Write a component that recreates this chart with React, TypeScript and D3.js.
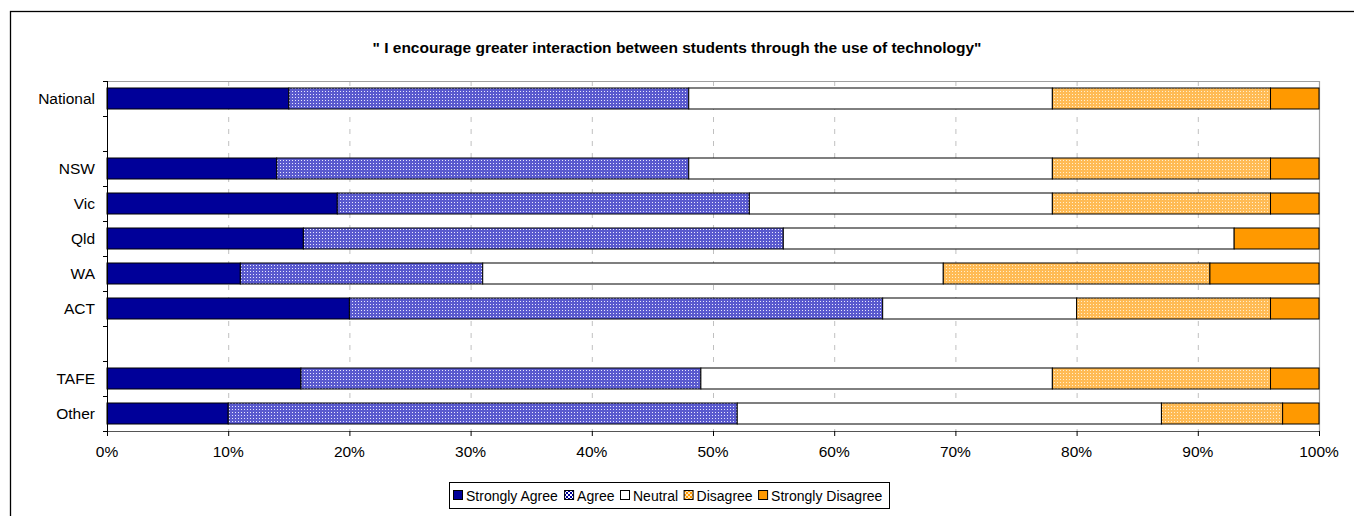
import React from "react";
import * as d3 from "d3";

const categories = ["National", "", "NSW", "Vic", "Qld", "WA", "ACT", " ", "TAFE", "Other"];
const seriesNames = ["Strongly Agree", "Agree", "Neutral", "Disagree", "Strongly Disagree"];
const stronglyAgree = [15, null, 14, 19, 16.2, 11, 20, null, 16, 10];
const agree = [33, null, 34, 34, 39.6, 20, 44, null, 33, 42];
const neutral = [30, null, 30, 25, 37.2, 38, 16, null, 29, 35];
const disagree = [18, null, 18, 18, 0, 22, 16, null, 18, 10];
const stronglyDisagree = [4, null, 4, 4, 7, 9, 4, null, 4, 3];
const xTicks = [0, 10, 20, 30, 40, 50, 60, 70, 80, 90, 100];
const title = "\" I encourage greater interaction between students through the use of technology\"";

const fills = ["#000099", "url(#patAgree)", "#ffffff", "url(#patDisagree)", "#ff9900"];
const legendSwatch = ["#000099", "url(#patAgreeL)", "#ffffff", "url(#patDisagreeL)", "#ff9900"];

export default function App() {
  const W = 1354, H = 516;
  const left = 107, right = 1319, top = 81, bottom = 431;
  const x = d3.scaleLinear().domain([0, 100]).range([left, right]);
  const y = d3.scaleBand<number>().domain(d3.range(categories.length)).range([top, bottom]).paddingInner(0.4).paddingOuter(0.2);
  const slot = (bottom - top) / categories.length;
  const seriesArr = [stronglyAgree, agree, neutral, disagree, stronglyDisagree];
  const rows = categories.map((c, i) => {
    const o: any = { i };
    seriesArr.forEach((s, k) => (o[k] = s[i] ?? 0));
    o.has = stronglyAgree[i] != null;
    return o;
  });
  const stack = d3.stack<any>().keys([0, 1, 2, 3, 4].map(String) as any)(rows as any);
  const font = "Arial, 'Liberation Sans', sans-serif";

  const legendTextW = [92.6, 37.4, 45.1, 56, 111.3];
  let lx = 453;

  return (
    <div style={{ position: "absolute", left: 0, top: 0 }}>
      <svg width={W} height={H} style={{ display: "block", fontFamily: font }}>
        <defs>
          <pattern id="patAgree" width="3" height="3" patternUnits="userSpaceOnUse">
            <rect width="3" height="3" fill="#5a5ace" />
            <rect x="1" y="1" width="1" height="1" fill="#e8e8ff" />
          </pattern>
          <pattern id="patDisagree" width="3" height="3" patternUnits="userSpaceOnUse">
            <rect width="3" height="3" fill="#ffbb55" />
            <rect x="1" y="1" width="1" height="1" fill="#ffeecc" />
          </pattern>
          <pattern id="patAgreeL" width="4" height="4" patternUnits="userSpaceOnUse">
            <rect width="4" height="4" fill="#000099" />
            <rect x="0" y="0" width="2" height="2" fill="#ffffff" />
            <rect x="2" y="2" width="2" height="2" fill="#ffffff" />
          </pattern>
          <pattern id="patDisagreeL" width="4" height="4" patternUnits="userSpaceOnUse">
            <rect width="4" height="4" fill="#ff9900" />
            <rect x="0" y="0" width="2" height="2" fill="#ffe6bb" />
            <rect x="2" y="2" width="2" height="2" fill="#ffe6bb" />
          </pattern>
        </defs>
        <rect x={0} y={0} width={W} height={H} fill="#ffffff" />
        <rect x={10.5} y={11.5} width={W + 20} height={H + 20} fill="none" stroke="#000" strokeWidth={1.3} />
        <text x={677} y={53} textAnchor="middle" fontSize={15.5} fontWeight="bold" fill="#000">{title}</text>

        {xTicks.slice(1, -1).map((t) => (
          <line key={"g" + t} x1={x(t) + 0.5} x2={x(t) + 0.5} y1={top} y2={bottom} stroke="#c0c0c0" strokeDasharray="5,7" />
        ))}
        <line x1={left} x2={right + 0.5} y1={top + 0.5} y2={top + 0.5} stroke="#a0a0a0" strokeWidth={1.2} />
        <line x1={right + 0.5} x2={right + 0.5} y1={top} y2={bottom} stroke="#a0a0a0" strokeWidth={1.2} />

        {stack.map((layer, k) => (
          <g key={"s" + k}>
            {layer.map((d: any, i: number) => {
              if (!rows[i].has) return null;
              const w = x(d[1]) - x(d[0]);
              if (w <= 0) return null;
              return (
                <rect key={i} x={x(d[0])} y={y(i)!} width={w} height={y.bandwidth()} fill={fills[k]} stroke="#000" strokeWidth={1} />
              );
            })}
          </g>
        ))}

        <line x1={left + 0.5} x2={left + 0.5} y1={top} y2={bottom + 4} stroke="#000" />
        <line x1={left - 4} x2={right + 0.5} y1={bottom + 0.5} y2={bottom + 0.5} stroke="#555" />
        {d3.range(categories.length + 1).map((j) => (
          <line key={"yt" + j} x1={left - 4} x2={left} y1={top + j * slot + 0.5} y2={top + j * slot + 0.5} stroke="#000" />
        ))}
        {xTicks.map((t) => (
          <g key={"xt" + t}>
            <line x1={x(t) + 0.5} x2={x(t) + 0.5} y1={bottom} y2={bottom + 5} stroke="#000" />
            <text x={x(t)} y={457} textAnchor="middle" fontSize={15.5} fill="#000">{t + "%"}</text>
          </g>
        ))}
        {categories.map((c, i) => (
          <text key={"yl" + i} x={95} y={y(i)! + y.bandwidth() / 2 + 5.5} textAnchor="end" fontSize={15.5} fill="#000">{c.trim()}</text>
        ))}

        <rect x={449.5} y={482.5} width={440} height={26} fill="#fff" stroke="#000" />
        {seriesNames.map((label, k) => {
          const gx = lx;
          lx += 13 + legendTextW[k] + 5.5;
          return (
            <g key={"l" + k}>
              <rect x={gx + 0.5} y={490.5} width={9} height={9} fill={legendSwatch[k]} stroke="#000" />
              <text x={gx + 13} y={501} fontSize={14} fill="#000">{label}</text>
            </g>
          );
        })}
      </svg>
    </div>
  );
}
